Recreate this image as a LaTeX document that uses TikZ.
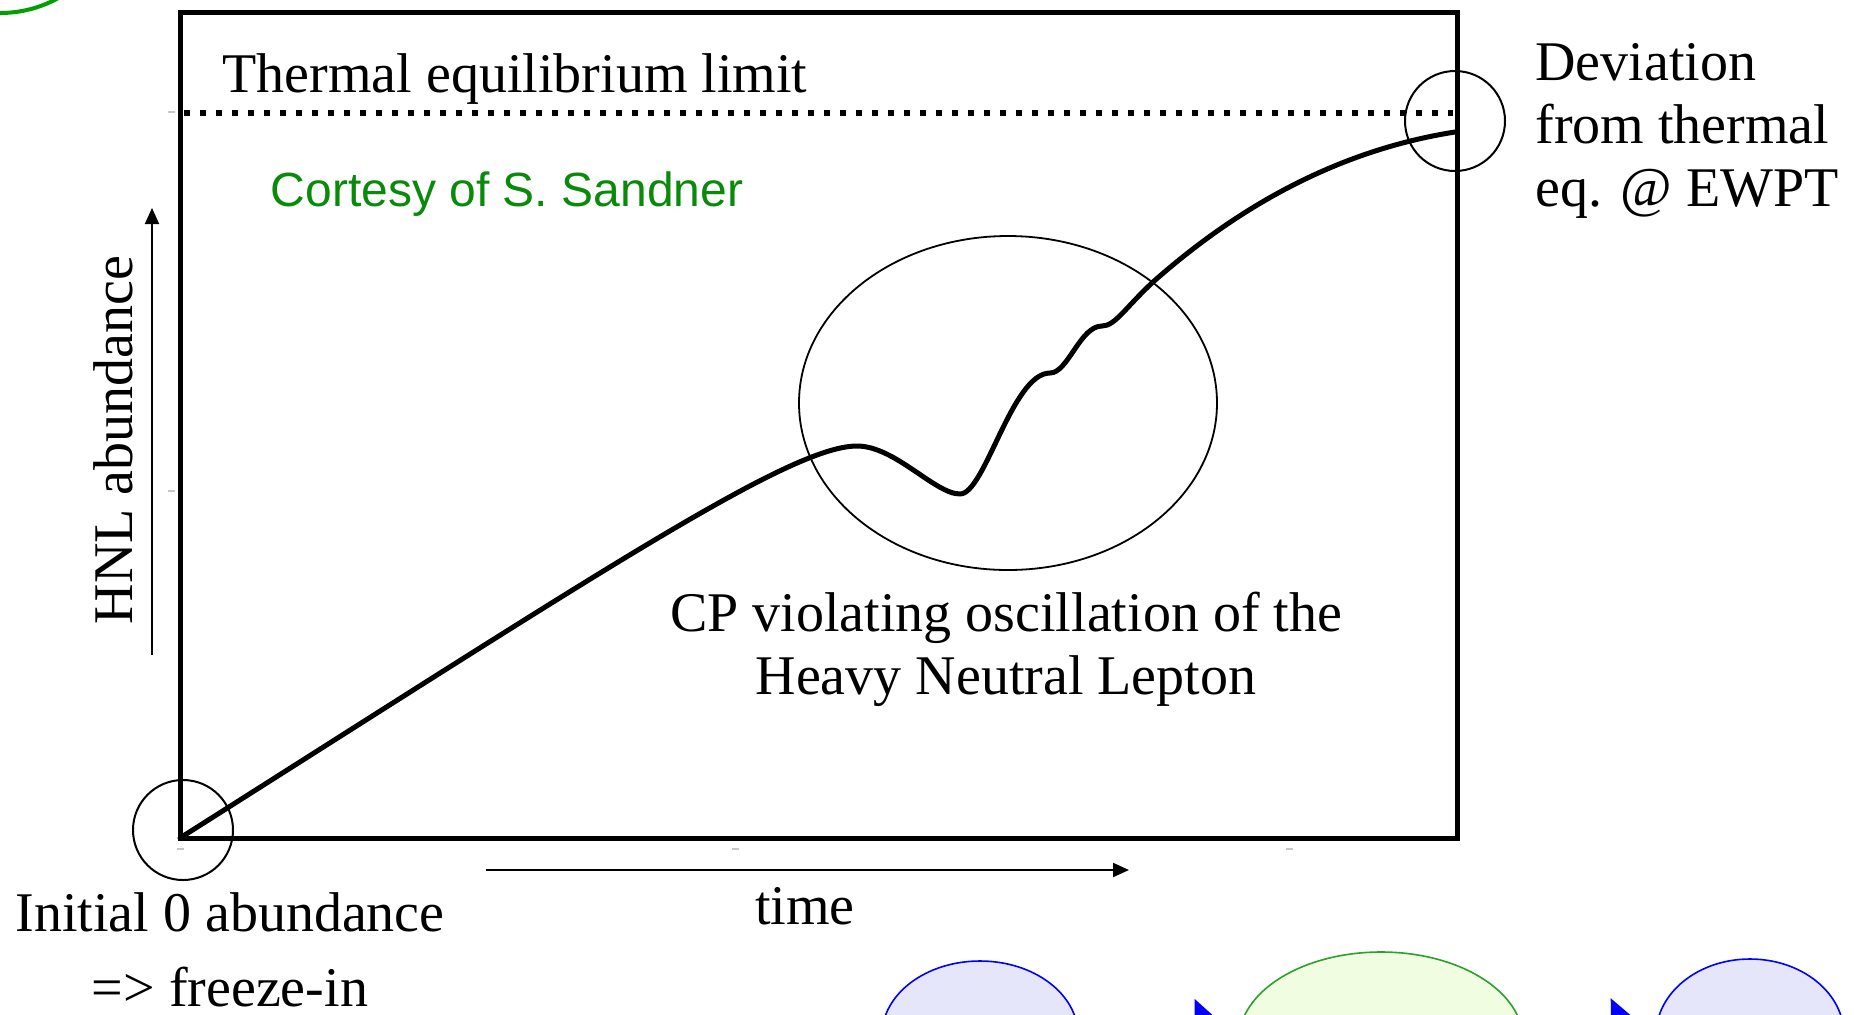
\documentclass[tikz,border=0pt]{standalone}
\usepackage{fontspec}
\setmainfont{Liberation Serif}
\newfontfamily\credfont{Liberation Sans}
\usetikzlibrary{arrows.meta, shapes.geometric}
\definecolor{credgreen}{HTML}{0A8A0A}
\definecolor{ringgreen}{HTML}{00A000}
\definecolor{edgegreen}{HTML}{2CA02C}
\definecolor{lavfill}{HTML}{E6E6FA}
\definecolor{limefill}{HTML}{F1FDE0}

\begin{document}
\begin{tikzpicture}[
  x=0.5pt, y=-0.5pt,
  lbl/.style={font=\fontsize{28}{31.5}\selectfont, inner sep=0pt},
  ring/.style={draw, circle, line width=1pt, minimum size=#1, inner sep=0pt},
  axarr/.style={-{Triangle[length=8pt,width=7pt]}, line width=1pt},
  blob/.style={draw=#1, ellipse, line width=0.8pt, inner sep=0pt},
  flow/.style={-{Triangle[length=22pt,width=38pt]}, draw=blue, line width=3pt},
  tick/.style={draw=gray!45, line width=0.6pt},
]
\path[use as bounding box, clip] (0,0) rectangle (1854,1014);

%% ===== FRAME & EQUILIBRIUM LINE =====

\coordinate (bl) at (180,838);
\coordinate (tr) at (1457,12);
\draw[line width=2.5pt, line join=miter] (bl) rectangle (tr);

\coordinate (eqL) at (184,113);
\coordinate (eqR) at (1453,113);
\draw[line width=3pt, dash pattern=on 3pt off 5pt] (eqL) -- (eqR);

\node[lbl, anchor=base] (eqlbl) at (515,92) {Thermal equilibrium limit};
\node[font=\credfont\fontsize{24}{28}\selectfont, text=credgreen, inner sep=0pt,
      anchor=base] (credit) at (507,206) {Cortesy of S. Sandner};

% faint tick remnants
\draw[tick] (168,112) -- (175,112);
\draw[tick] (168,491) -- (175,491);
\draw[tick] (177,849) -- (184,849);
\draw[tick] (732,849) -- (739,849);
\draw[tick] (1286,849) -- (1293,849);

%% ===== ABUNDANCE CURVE =====

\draw[line width=2.5pt, line cap=round, line join=round]
  (bl) .. controls (600,572) and (790,446) .. (857,446)     % slow rise
  .. controls (895,446) and (935,494) .. (960,494)            % dip
  .. controls (985,494) and (1012,373) .. (1050,373)          % first step
  .. controls (1068,373) and (1080,326) .. (1102,326)         % second step
  .. controls (1115,326) and (1125,308) .. (1153,282)
  .. controls (1240,205) and (1340,150) .. (1455,132);        % towards EWPT

\node[ring=50pt] (startmark) at (183,830) {};
\node[ring=50pt] (endmark) at (1455,121) {};
\node[draw, ellipse, line width=0.9pt, minimum width=209pt, minimum height=167pt,
      inner sep=0pt] (oscmark) at (1008,403) {};

%% ===== AXES =====

\coordinate (ybot) at (152,655);
\coordinate (ytop) at (152,208);
\draw[axarr] (ybot) -- (ytop);
\node[lbl, rotate=90, anchor=base] (ylbl) at (132,440) {HNL abundance};

\coordinate (tleft) at (486,870);
\coordinate (tright) at (1129,870);
\draw[axarr] (tleft) -- (tright);
\node[lbl, anchor=base] (tlbl) at (805,924) {time};

%% ===== ANNOTATIONS =====

\node[lbl, align=center, anchor=base] (initlbl) at (230,1006)
    {Initial 0 abundance\\[6pt]=> freeze-in};
\node[lbl, align=center, anchor=north] (osclbl) at (1006,592)
    {CP violating oscillation of the\\Heavy Neutral Lepton};
\node[lbl, align=left, anchor=north west] (devlbl) at (1535,43)
    {Deviation\\from thermal\\eq. @ EWPT};

%% ===== SLIDE REMNANTS =====

\node[draw=ringgreen, circle, line width=2pt, minimum size=121pt, inner sep=0pt]
    (cornerring) at (0,-108) {};

\node[blob=blue, fill=lavfill, minimum width=98pt, minimum height=74pt] (ovalA) at (980,1035) {};
\node[blob=edgegreen, fill=limefill, minimum width=142pt, minimum height=88pt] (ovalB) at (1381,1040) {};
\node[blob=blue, fill=lavfill, minimum width=94pt, minimum height=76pt] (ovalC) at (1750,1035) {};

\draw[flow] (ovalA) -- (ovalB);
\draw[flow] (ovalB) -- (ovalC);

\end{tikzpicture}
\end{document}
